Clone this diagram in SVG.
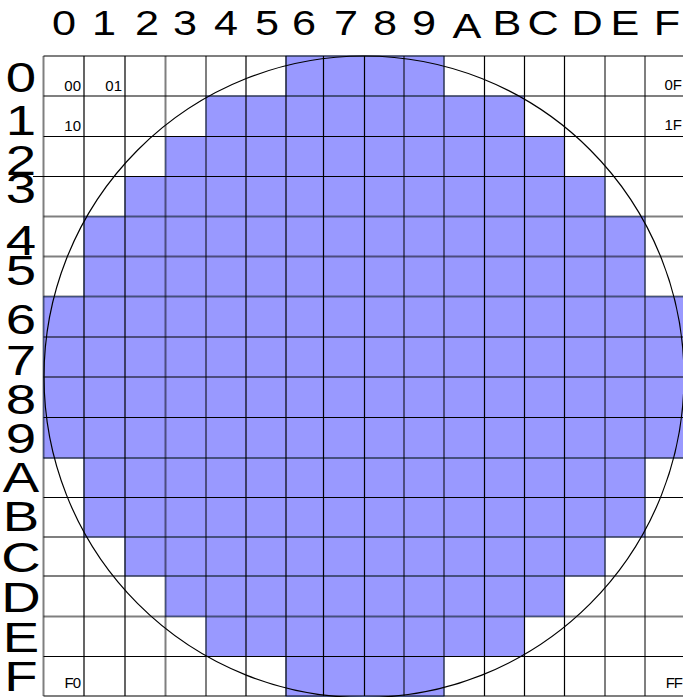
<svg xmlns="http://www.w3.org/2000/svg" width="683" height="697" viewBox="0 0 683 697">
<style>
.cell{fill:#9999ff;stroke:#85a3ff;stroke-width:1}
.k{stroke:#000;stroke-width:1.2;fill:none}
.g{stroke:#000;stroke-opacity:0.5;stroke-width:2;fill:none}
.hdr{font-family:"Liberation Sans",Arial,sans-serif;font-size:36px;fill:#000;text-anchor:middle}
.row{font-family:"Liberation Sans",Arial,sans-serif;font-size:42px;fill:#000;text-anchor:middle}
.sm{font-family:"Liberation Sans",Arial,sans-serif;font-size:15px;fill:#000;text-anchor:end}
</style>
<rect width="683" height="697" fill="#fff"/>
<g id="cells">
<rect class="cell" x="286" y="56" width="158" height="40"/>
<rect class="cell" x="206" y="96" width="318.5" height="40.5"/>
<rect class="cell" x="165.5" y="136.5" width="399" height="40"/>
<rect class="cell" x="125" y="176.5" width="480" height="40"/>
<rect class="cell" x="84" y="216.5" width="561" height="80"/>
<rect class="cell" x="43.5" y="296.5" width="641" height="161.5"/>
<rect class="cell" x="84" y="458" width="561" height="79"/>
<rect class="cell" x="125" y="537" width="480" height="39"/>
<rect class="cell" x="165.5" y="576" width="399" height="40.5"/>
<rect class="cell" x="206" y="616.5" width="318.5" height="40"/>
<rect class="cell" x="286" y="656.5" width="158" height="40"/>
</g>
<g id="grid">
<g class="k">
<path d="M84 56V696M125 56V696M246 56V696M286 56V696M323.5 56V696M364.5 56V696M484.5 56V696M524.5 56V696M564.5 56V696"/>
<path d="M43.5 96H683M43.5 136.5H683M33 176.5H683M43.5 377H683M43.5 417.5H683M43.5 497.5H683M43.5 537H683M43.5 576H683M43.5 656.5H683"/>
</g>
<g class="g">
<path d="M43.5 56V696M165.5 56V696M206 56V696M404 56V696M444 56V696M605 56V696M645 56V696"/>
<path d="M43.5 56H683M43.5 216.5H683M43.5 256.5H683M43.5 296.5H683M43.5 337H683M43.5 458H683M43.5 616.5H683M43.5 696H683"/>
</g>
</g>
<g id="wafer">
<ellipse cx="364" cy="376.8" rx="320" ry="320.8" fill="none" stroke="#000" stroke-width="1.2"/>
</g>
<g id="column-labels">
<text class="hdr" transform="translate(64,35) scale(1.2,1)">0</text>
<text class="hdr" transform="translate(104,35) scale(1.2,1)">1</text>
<text class="hdr" transform="translate(147,35) scale(1.2,1)">2</text>
<text class="hdr" transform="translate(185,35) scale(1.2,1)">3</text>
<text class="hdr" transform="translate(226,35) scale(1.2,1)">4</text>
<text class="hdr" transform="translate(267,35) scale(1.2,1)">5</text>
<text class="hdr" transform="translate(304,35) scale(1.2,1)">6</text>
<text class="hdr" transform="translate(346,35) scale(1.2,1)">7</text>
<text class="hdr" transform="translate(385,35) scale(1.2,1)">8</text>
<text class="hdr" transform="translate(424,35) scale(1.2,1)">9</text>
<text class="hdr" transform="translate(467,38) scale(1.2,1)">A</text>
<text class="hdr" transform="translate(507,35) scale(1.2,1)">B</text>
<text class="hdr" transform="translate(543,35) scale(1.2,1)">C</text>
<text class="hdr" transform="translate(587,35) scale(1.2,1)">D</text>
<text class="hdr" transform="translate(625,35) scale(1.2,1)">E</text>
<text class="hdr" transform="translate(667,35) scale(1.2,1)">F</text>
</g>
<g id="row-labels">
<text class="row" transform="translate(21,92) scale(1.3,1)">0</text>
<text class="row" transform="translate(21,135) scale(1.3,1)">1</text>
<text class="row" transform="translate(21,175) scale(1.3,1)">2</text>
<text class="row" transform="translate(21,203) scale(1.3,1)">3</text>
<text class="row" transform="translate(21,255) scale(1.3,1)">4</text>
<text class="row" transform="translate(21,285) scale(1.3,1)">5</text>
<text class="row" transform="translate(21,334) scale(1.3,1)">6</text>
<text class="row" transform="translate(21,375) scale(1.3,1)">7</text>
<text class="row" transform="translate(21,414) scale(1.3,1)">8</text>
<text class="row" transform="translate(21,453) scale(1.3,1)">9</text>
<text class="row" transform="translate(21,492) scale(1.3,1)">A</text>
<text class="row" transform="translate(21,531) scale(1.3,1)">B</text>
<text class="row" transform="translate(21,572) scale(1.3,1)">C</text>
<text class="row" transform="translate(21,612) scale(1.3,1)">D</text>
<text class="row" transform="translate(21,652) scale(1.3,1)">E</text>
<text class="row" transform="translate(21,691) scale(1.3,1)">F</text>
</g>
<g id="cell-labels">
<text class="sm" x="81" y="91">00</text>
<text class="sm" x="122" y="91">01</text>
<text class="sm" x="81" y="131">10</text>
<text class="sm" x="682" y="90">0F</text>
<text class="sm" x="682" y="130">1F</text>
<text class="sm" x="80" y="688" letter-spacing="-1">F0</text>
<text class="sm" x="682" y="688" letter-spacing="-1">FF</text>
</g>
</svg>
